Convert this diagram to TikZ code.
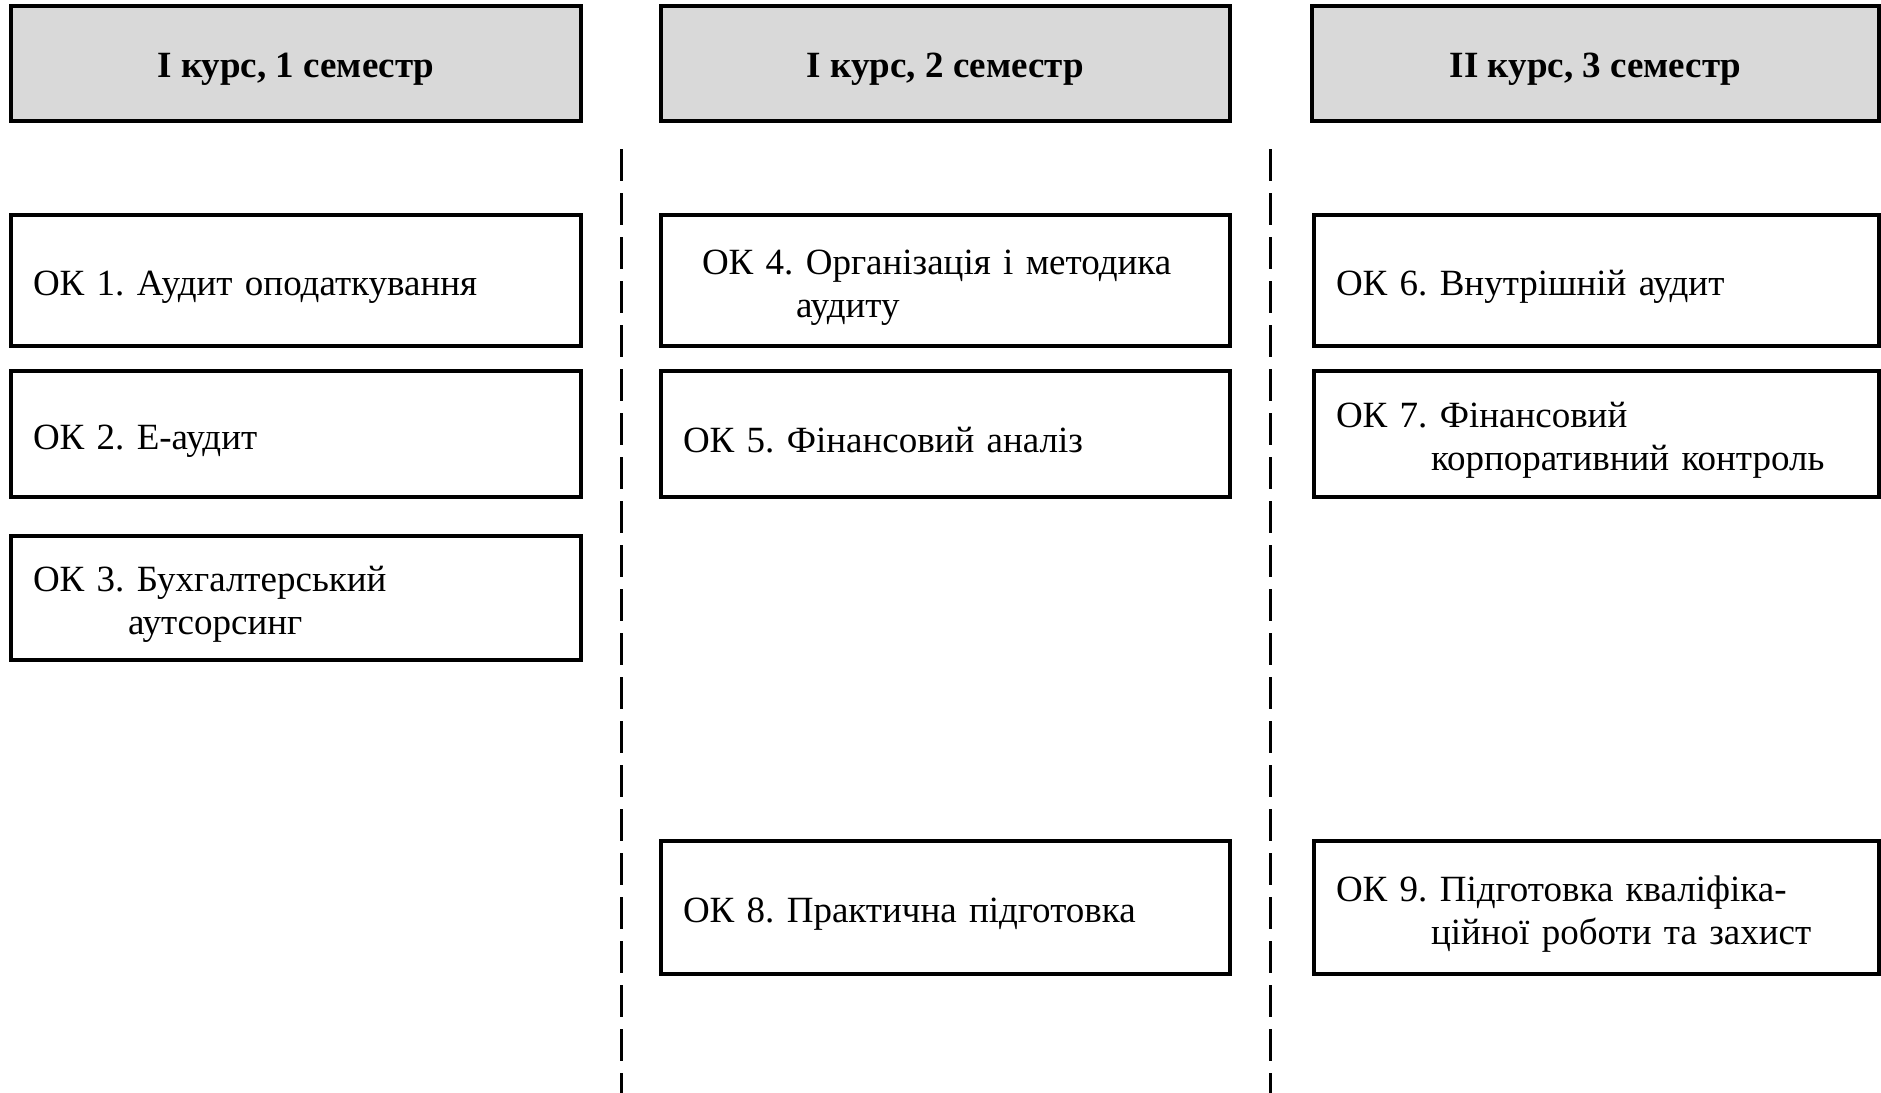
\documentclass[tikz,border=0pt]{standalone}
\usepackage{fontspec}
\setmainfont{Liberation Serif}
\definecolor{hdrgray}{HTML}{D9D9D9}
\newcommand{\topstrut}{\rule{0pt}{19pt}}
\newcommand{\hdrstrut}{\rule{0pt}{17.8pt}}
\begin{document}
\begin{tikzpicture}[x=0.5pt,y=-0.5pt,
  every node/.style={font=\fontsize{18.5}{21.5}\selectfont\frenchspacing},
  hdr/.style={draw, line width=2pt, fill=hdrgray, minimum height=57.5pt, align=center, inner sep=0pt, font=\fontsize{18.5}{21.5}\selectfont\bfseries\frenchspacing},
  okbox/.style={draw, line width=2pt, align=left, inner xsep=11pt, inner ysep=0pt},
  sep/.style={line width=1.8pt, dash pattern=on 16pt off 6pt}
]
\useasboundingbox (0,0) rectangle (1881,1093);
% headers
\node[hdr, minimum width=285pt] (h1) at (296,63.5) {\hdrstrut I курс, 1 семестр};
\node[hdr, minimum width=284.5pt] (h2) at (945.5,63.5) {\hdrstrut I курс, 2 семестр};
\node[hdr, minimum width=283.5pt] (h3) at (1595.5,63.5) {\hdrstrut II курс, 3 семестр};
% separators
\coordinate (s1t) at (621.5,149);
\coordinate (s1b) at (621.5,1093);
\coordinate (s2t) at (1270.5,149);
\coordinate (s2b) at (1270.5,1093);
\draw[sep] (s1t) -- (s1b);
\draw[sep] (s2t) -- (s2b);
% column 1
\node[okbox, text width=263pt, minimum height=65.5pt] (ok1) at (296,280.5) {\topstrut ОК 1. Аудит оподаткування};
\node[okbox, text width=263pt, minimum height=63pt] (ok2) at (296,434) {\topstrut ОК 2. Е-аудит};
\node[okbox, text width=263pt, minimum height=62pt] (ok3) at (296,598) {\topstrut ОК 3. Бухгалтерський\\\hspace*{47.5pt}аутсорсинг};
% column 2
\node[okbox, text width=262.5pt, minimum height=65.5pt] (ok4) at (945.5,280.5) {\topstrut\hspace*{9.5pt}ОК 4. Організація і методика\\\hspace*{56.5pt}аудиту};
\node[okbox, text width=262.5pt, minimum height=63pt] (ok5) at (945.5,434) {\topstrut ОК 5. Фінансовий аналіз};
\node[okbox, text width=262.5pt, minimum height=66.5pt] (ok8) at (945.5,907.5) {\topstrut ОК 8. Практична підготовка};
% column 3
\node[okbox, text width=260.5pt, minimum height=65.5pt] (ok6) at (1596.5,280.5) {\topstrut ОК 6. Внутрішній аудит};
\node[okbox, text width=260.5pt, minimum height=63pt] (ok7) at (1596.5,434) {\topstrut ОК 7. Фінансовий\\\hspace*{47.5pt}корпоративний контроль};
\node[okbox, text width=260.5pt, minimum height=66.5pt] (ok9) at (1596.5,907.5) {\topstrut ОК 9. Підготовка кваліфіка-\\\hspace*{47.5pt}ційної роботи та захист};
\end{tikzpicture}
\end{document}
